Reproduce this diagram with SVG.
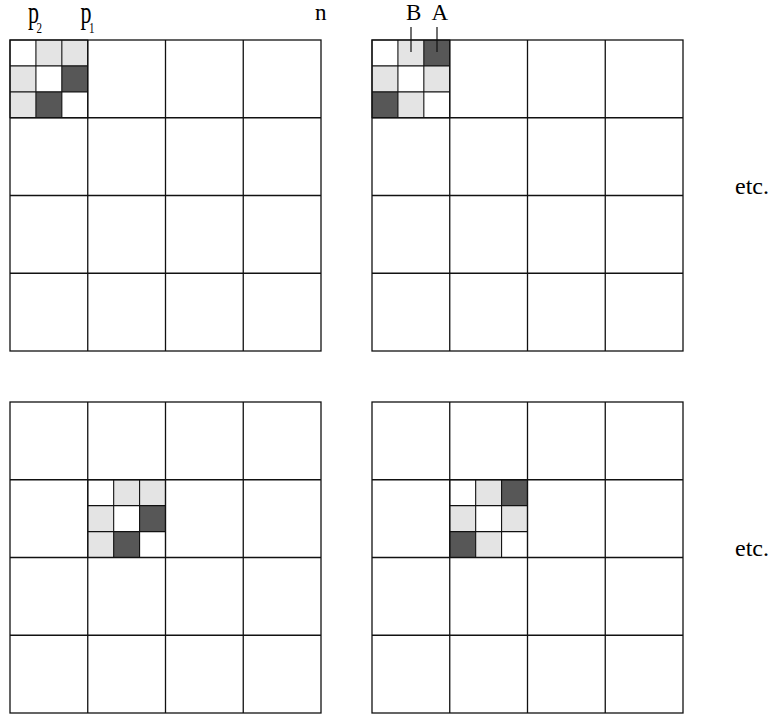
<svg xmlns="http://www.w3.org/2000/svg" xmlns:xlink="http://www.w3.org/1999/xlink" width="772" height="717" viewBox="0 0 772 717">
<style>
.grid{fill:none;stroke:#111;stroke-width:1.3}
.sg{fill:none;stroke:#111;stroke-width:1.1}
.lt{fill:#e4e4e4}
.dk{fill:#575757}
.tick{stroke:#111;stroke-width:1.2}
</style>
<defs>
<g id="bigGrid">
<rect class="grid" x="0" y="0" width="311" height="311"/>
<path class="grid" d="M77.75 0V311M155.5 0V311M233.25 0V311M0 77.75H311M0 155.5H311M0 233.25H311"/>
</g>
<g id="smallLines">
<path class="sg" d="M0 0H77.75V77.75H0ZM25.92 0V77.75M51.83 0V77.75M0 25.92H77.75M0 51.83H77.75"/>
</g>
<g id="patA">
<rect class="lt" x="25.92" y="0" width="25.92" height="25.92"/>
<rect class="lt" x="51.83" y="0" width="25.92" height="25.92"/>
<rect class="lt" x="0" y="25.92" width="25.92" height="25.92"/>
<rect class="lt" x="0" y="51.83" width="25.92" height="25.92"/>
<rect class="dk" x="51.83" y="25.92" width="25.92" height="25.92"/>
<rect class="dk" x="25.92" y="51.83" width="25.92" height="25.92"/>
<use xlink:href="#smallLines"/>
</g>
<g id="patB">
<rect class="lt" x="25.92" y="0" width="25.92" height="25.92"/>
<rect class="lt" x="0" y="25.92" width="25.92" height="25.92"/>
<rect class="lt" x="51.83" y="25.92" width="25.92" height="25.92"/>
<rect class="lt" x="25.92" y="51.83" width="25.92" height="25.92"/>
<rect class="dk" x="51.83" y="0" width="25.92" height="25.92"/>
<rect class="dk" x="0" y="51.83" width="25.92" height="25.92"/>
<use xlink:href="#smallLines"/>
</g>
</defs>
<rect width="772" height="717" fill="#fff"/>

<g id="panel-top-left">
<use xlink:href="#patA" x="10" y="40"/>
<use xlink:href="#bigGrid" x="10" y="40"/>
</g>
<g id="panel-top-right">
<use xlink:href="#patB" x="372" y="40"/>
<use xlink:href="#bigGrid" x="372" y="40"/>
</g>
<g id="panel-bottom-left">
<use xlink:href="#patA" x="87.75" y="479.75"/>
<use xlink:href="#bigGrid" x="10" y="402"/>
</g>
<g id="panel-bottom-right">
<use xlink:href="#patB" x="449.75" y="479.75"/>
<use xlink:href="#bigGrid" x="372" y="402"/>
</g>

<g id="labels" font-family="'Liberation Serif', 'Times New Roman', 'DejaVu Serif', serif" fill="#000">
<g transform="translate(28,23) scale(1,1.4)">
<text x="0" y="0" font-size="22">p</text>
<text x="8.5" y="7" font-size="11">2</text>
</g>
<g transform="translate(80.5,23) scale(1,1.4)">
<text x="0" y="0" font-size="22">p</text>
<text x="8.5" y="7" font-size="11">1</text>
</g>
<text x="315" y="20" font-size="23">n</text>
<text x="406" y="20" font-size="23">B</text>
<text x="431.5" y="20" font-size="23">A</text>
<text x="735" y="194" font-size="24">etc.</text>
<text x="735" y="556" font-size="24">etc.</text>
</g>
<g id="connectors">
<line class="tick" x1="411" y1="27" x2="411" y2="52"/>
<line class="tick" x1="437" y1="27" x2="437" y2="52"/>
</g>
</svg>
